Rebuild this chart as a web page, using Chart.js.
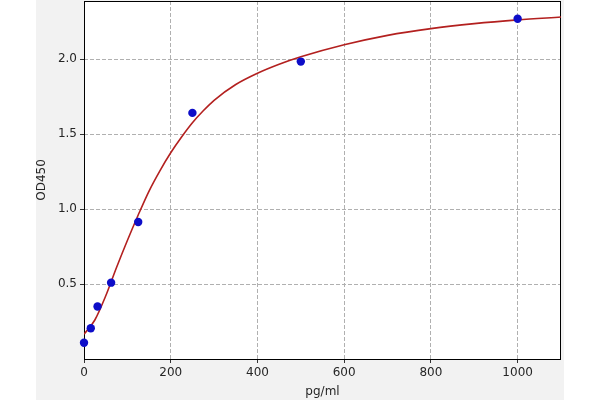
<!DOCTYPE html>
<html>
<head>
<meta charset="utf-8">
<script src="https://cdn.jsdelivr.net/npm/chart.js@4/dist/chart.umd.min.js"></script>
<style>
  html, body { margin: 0; padding: 0; background: #ffffff; }
  #wrap { width: 600px; height: 400px; position: relative; }
</style>
</head>
<body>
<div id="wrap"><canvas id="c" width="600" height="400"></canvas></div>
<script>
// Standards (pg/ml) and measured OD450
const concentrations = [0, 15.625, 31.25, 62.5, 125, 250, 500, 1000];
const od450 = [0.108, 0.205, 0.350, 0.509, 0.913, 1.641, 1.983, 2.269];

// Fitted curve, values
const curveX = [0, 25, 50, 75, 100, 125, 150, 175, 200, 225, 250, 275, 300, 350, 400, 450, 500, 600, 700, 800, 900, 1000, 1100];
const curveY = [0.165, 0.26, 0.42, 0.61, 0.79, 0.96, 1.12, 1.255, 1.375, 1.48, 1.575, 1.655, 1.725, 1.83, 1.905, 1.965, 2.015, 2.095, 2.158, 2.203, 2.236, 2.261, 2.28];

// Axis ticks
const xTicks = [0, 200, 400, 600, 800, 1000];
const yTicks = [0.5, 1.0, 1.5, 2.0];
const xTitle = 'pg/ml';
const yTitle = 'OD450';

const FONT = 'DejaVu Sans';

const bgPlugin = {
  id: 'bg',
  beforeDraw(chart) {
    const { ctx, chartArea: a } = chart;
    ctx.save();
    ctx.fillStyle = '#ffffff';
    ctx.fillRect(0, 0, chart.width, chart.height);
    ctx.fillStyle = '#f2f2f2';
    ctx.fillRect(36, 0, 528, chart.height);
    ctx.fillStyle = '#ffffff';
    ctx.fillRect(a.left, a.top, a.right - a.left, a.bottom - a.top);
    ctx.restore();
  },
  beforeDatasetsDraw(chart) {
    const { ctx, chartArea: a } = chart;
    ctx.save();
    ctx.strokeStyle = '#000000';
    ctx.lineWidth = 1;
    ctx.strokeRect(Math.round(a.left) + 0.5, Math.round(a.top) + 0.5,
                   Math.round(a.right - a.left) - 1, Math.round(a.bottom - a.top));
    ctx.restore();
  }
};

new Chart(document.getElementById('c'), {
  type: 'scatter',
  data: {
    datasets: [
      {
        type: 'line',
        label: 'fit',
        data: curveX.map((x, i) => ({ x: x, y: curveY[i] })),
        borderColor: '#b3201f',
        borderWidth: 1.6,
        pointRadius: 0,
        fill: false,
        cubicInterpolationMode: 'monotone',
        order: 2
      },
      {
        label: 'standards',
        data: concentrations.map((x, i) => ({ x: x, y: od450[i] })),
        backgroundColor: '#0d0dc8',
        borderColor: '#0d0dc8',
        borderWidth: 0,
        pointRadius: 4.2,
        clip: false,
        order: 1
      }
    ]
  },
  options: {
    responsive: false,
    animation: false,
    devicePixelRatio: 1,
    layout: { autoPadding: false, padding: { left: 0, right: 39, top: 1, bottom: 0 } },
    plugins: { legend: { display: false }, tooltip: { enabled: false } },
    scales: {
      x: {
        type: 'linear',
        min: 0,
        max: 1100,
        afterBuildTicks: s => { s.ticks = xTicks.map(v => ({ value: v })); },
        afterFit: s => { s.height = 41; s.paddingLeft = 0; s.paddingRight = 0; },
        ticks: {
          color: '#262626',
          font: { family: FONT, size: 12 },
          padding: 3,
          maxRotation: 0,
          callback: v => String(v)
        },
        grid: {
          color: '#b0b0b0',
          lineWidth: 1,
          tickLength: 4,
          tickColor: '#333333',
          tickBorderDash: [],
          drawTicks: true
        },
        border: { display: false, dash: [4, 2] },
        title: {
          display: true,
          text: xTitle,
          color: '#262626',
          font: { family: FONT, size: 12 },
          padding: { top: 0, bottom: 1 }
        }
      },
      y: {
        type: 'linear',
        min: 0,
        max: 2.387,
        afterBuildTicks: s => { s.ticks = yTicks.map(v => ({ value: v })); },
        afterFit: s => { s.width = 84; s.paddingTop = 0; s.paddingBottom = 0; },
        ticks: {
          color: '#262626',
          font: { family: FONT, size: 12 },
          padding: 3,
          callback: v => Number(v).toFixed(1)
        },
        grid: {
          color: '#b0b0b0',
          lineWidth: 1,
          tickLength: 4,
          tickColor: '#333333',
          tickBorderDash: [],
          drawTicks: true
        },
        border: { display: false, dash: [4, 2] },
        title: {
          display: true,
          text: yTitle,
          color: '#262626',
          font: { family: FONT, size: 12 },
          padding: { top: 35, bottom: 0 }
        }
      }
    }
  },
  plugins: [bgPlugin]
});
</script>
</body>
</html>
